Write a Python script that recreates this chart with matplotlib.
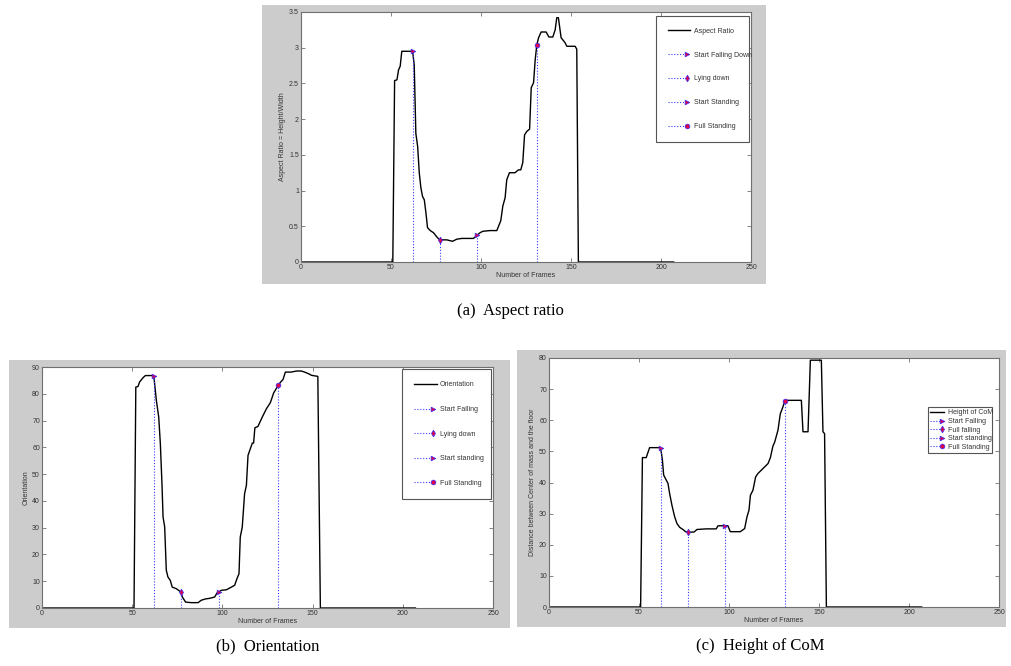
import matplotlib
matplotlib.use("Agg")
import matplotlib.pyplot as plt
from matplotlib.patches import Rectangle
from matplotlib.legend_handler import HandlerLine2D

plt.rcParams["font.family"] = ["Liberation Sans", "DejaVu Sans"]

# ---------------- data ----------------
ar_frames = [1, 51, 52, 53.3, 54.2, 55.1, 56, 62, 62.9, 63.8, 64.8, 65.7, 66.6, 67.5,
             68.5, 69.4, 70.3, 71.8, 73.6, 75.5, 77, 81, 84.2, 86.6, 89.4, 95.8, 98,
             99.5, 101, 105, 108.8, 111, 112.1, 113.4, 114.3, 115.8, 118.9, 120.8,
             122.1, 123.2, 124.2, 125.5, 127, 127.9, 129.2, 130.1, 131, 132, 133.4,
             136.2, 137.7, 139.9, 141.2, 142.1, 143, 144.5, 146.7, 147.7, 152.3,
             153.2, 154.1, 207]
ar_values = [0, 0, 2.54, 2.55, 2.69, 2.74, 2.95, 2.95, 2.76, 1.8, 1.62, 1.25, 1.04, 0.92,
             0.87, 0.69, 0.48, 0.44, 0.41, 0.35, 0.31, 0.31, 0.29, 0.32, 0.33, 0.33, 0.38,
             0.41, 0.43, 0.44, 0.44, 0.58, 0.78, 0.9, 1.15, 1.25, 1.25, 1.29,
             1.29, 1.39, 1.78, 1.83, 1.86, 2.44, 2.51, 2.83, 3.04, 3.14, 3.22,
             3.22, 3.15, 3.15, 3.25, 3.42, 3.42, 3.14, 3.07, 3.02, 3.02,
             2.98, 0, 0]
ar_event_frames = [62, 77, 98, 131]
ar_event_values = [2.95, 0.31, 0.38, 3.04]
ar_event_labels = ["Start Falling Down", "Lying down", "Start Standing", "Full Standing"]

or_frames = [1, 51, 52, 53.2, 54.1, 56, 57.3, 61.2, 62, 63.4, 64.7, 65.6, 66.5, 67.1, 68,
             68.9, 69.8, 71.1, 72.2, 74.5, 76.3, 77, 77.8, 79.6, 82.8, 86.5, 88.3, 90.7,
             92.9, 95.7, 97, 98, 99.4, 102.2, 105, 106.8, 108.1, 109.2, 109.9, 111,
             112.3, 113.3, 114.2, 115.5, 116.6, 117.3, 118, 119.7, 122.1, 124.4, 126.6,
             128.4, 131, 132.3, 133.6, 134.9, 138.2, 141, 143.8, 145.6, 148.4, 149.3,
             152.9, 154.3, 207]
or_values = [0, 0, 82.5, 82.7, 84.4, 86, 86.8, 86.8, 86.5, 77.5, 71.3, 61.4, 46.4, 34, 30.3,
             14.1, 11.6, 10.3, 7.8, 7.2, 6.3, 6, 4.1, 2.2, 2, 2, 2.9, 3.4,
             3.6, 4.1, 5.6, 6, 6.6, 6.8, 7.8, 8.5, 11, 12.8, 26.5, 30.2,
             42.7, 45.8, 57, 59.5, 61.6, 61.6, 67.3, 67.8, 71.3, 74.4, 76.7,
             80.3, 83.2, 84.4, 85.3, 88.1, 88.1, 88.5, 88.5, 88.1, 87.3, 86.9,
             86.5, 0, 0]
or_event_frames = [62, 77, 98, 131]
or_event_values = [86.5, 6, 6, 83.2]
or_event_labels = ["Start Falling", "Lying down", "Start standing", "Full Standing"]

com_frames = [1, 50.9, 51.9, 54, 55.9, 62, 63, 63.7, 65.2, 66.1, 67, 68.3, 69.8, 71.1,
              72.6, 74.4, 75.9, 77, 80.6, 82.2, 87.4, 92.9, 93.9, 98, 99.4, 100.7,
              106.3, 108.7, 110, 111.1, 111.9, 113.3, 114.8, 116.1, 118.9, 121.7, 123,
              124.4, 125.4, 127.2, 128.5, 129.6, 131, 131.9, 140.2, 141.1, 143.9, 145.2,
              151.3, 152.2, 153.1, 154.1, 207]
com_values = [0, 0, 48, 48, 51.2, 51.2, 47.2, 42.4, 40.7, 39.7, 36.5, 32.7, 29, 26.8,
              25.6, 24.9, 24.2, 24, 24.1, 24.9, 25.1, 25.1, 26.1, 26.1, 26.1, 24.2,
              24.2, 25.2, 29, 31.1, 35.9, 37.5, 41.8, 42.9, 44.5, 46.1, 48,
              51.7, 53, 56.8, 62.1, 63.7, 66.1, 66.4, 66.4, 56.3, 56.3, 79.3,
              79.3, 56.3, 55.7, 0, 0]
com_event_frames = [62, 77, 98, 131]
com_event_values = [51.2, 24, 26.1, 66.1]
com_event_labels = ["Start Falling", "Full falling", "Start standing", "Full Standing"]

event_markers = [">", "d", ">", "o"]

# ---------------- layout helpers ----------------
W, H = 1012, 666
fig = plt.figure(figsize=(W / 100, H / 100), dpi=100)
fig.patch.set_facecolor("white")


def px_rect(left, top, right, bottom):
    return [left / W, 1 - bottom / H, (right - left) / W, (bottom - top) / H]


def add_panel_bg(left, top, right, bottom):
    x, y, w, h = px_rect(left, top, right, bottom)
    fig.patches.append(Rectangle((x, y), w, h, transform=fig.transFigure,
                                 facecolor="#cccccc", edgecolor="none", zorder=-10))


class HandlerEndMarker(HandlerLine2D):
    """Legend line that stops at its marker, near the right end of the handle."""

    def create_artists(self, *args, **kwargs):
        arts = super().create_artists(*args, **kwargs)
        ln = arts[0]
        xd = list(ln.get_xdata())
        xm = xd[0] + 0.85 * (xd[-1] - xd[0])
        ln.set_xdata([xd[0], xm, xm])
        return arts


def draw_panel(ax_rect, frames, values, ev_x, ev_y, ev_labels, main_label,
               ylabel, ymax, ystep, yticklabels, legend_box, spacing, pad, hlen):
    ax = fig.add_axes(ax_rect)
    line, = ax.plot(frames, values, color="black", lw=1.0, label=main_label)
    handles = [line]
    for x, y, m, lab in zip(ev_x, ev_y, event_markers, ev_labels):
        h, = ax.plot([x, x], [0, y], linestyle=(0, (1, 1.6)), color="#3a3aff", lw=0.8,
                     marker=m, markevery=[1], markersize=3.4, markerfacecolor="#e0004a",
                     markeredgecolor="#3030ff", markeredgewidth=0.5, label=lab)
        handles.append(h)
    ax.set_xlim(0, 250)
    ax.set_ylim(0, ymax)
    ax.set_xticks(range(0, 251, 50))
    yt = [i * ystep for i in range(len(yticklabels))]
    ax.set_yticks(yt)
    ax.set_yticklabels(yticklabels)
    ax.tick_params(direction="in", top=True, right=True, length=3, width=0.5,
                   labelsize=5, pad=1.5, colors="#555555", labelcolor="#333333")
    for s in ax.spines.values():
        s.set_color("#707070")
        s.set_linewidth(0.8)
    ax.set_xlabel("Number of Frames", fontsize=5, color="#333333", labelpad=1)
    ax.set_ylabel(ylabel, fontsize=5, color="#333333", labelpad=2)

    x0, y0, w = legend_box
    leg = ax.legend(handles=handles, loc="upper left", bbox_to_anchor=(x0, y0, w, 0.0),
                    mode="expand", fontsize=5, labelspacing=spacing,
                    handlelength=hlen, handletextpad=0.5, borderpad=pad, borderaxespad=0,
                    fancybox=False, framealpha=1, edgecolor="#555555",
                    handler_map={h_: HandlerEndMarker(numpoints=1) for h_ in handles[1:]})
    leg.get_frame().set_linewidth(0.8)
    for t in leg.get_texts():
        t.set_color("#333333")
    return ax


# ---------------- (a) aspect ratio ----------------
add_panel_bg(262, 5, 766, 284)
draw_panel(px_rect(301, 12, 751, 262), ar_frames, ar_values,
           ar_event_frames, ar_event_values, ar_event_labels, "Aspect Ratio",
           "Aspect Ratio = Height/Width", 3.5, 0.5,
           ["0", "0.5", "1", "1.5", "2", "2.5", "3", "3.5"],
           (0.789, 0.984, 0.207), spacing=2.42, pad=1.7, hlen=3.2)
fig.text(510 / W, 1 - 311 / H, "(a)  Aspect ratio", ha="center", va="center",
         fontsize=12, family="Liberation Serif")

# ---------------- (b) orientation ----------------
add_panel_bg(9, 360, 510, 628)
draw_panel(px_rect(42, 367, 493, 608), or_frames, or_values,
           or_event_frames, or_event_values, or_event_labels, "Orientation",
           "Orientation", 90, 10, [str(v) for v in range(0, 91, 10)],
           (0.798, 0.992, 0.198), spacing=2.53, pad=1.8, hlen=3.2)
fig.text(268 / W, 1 - 646 / H, "(b)  Orientation", ha="center", va="center",
         fontsize=12, family="Liberation Serif")

# ---------------- (c) height of CoM ----------------
add_panel_bg(517, 350, 1006, 627)
draw_panel(px_rect(549, 358, 999, 607), com_frames, com_values,
           com_event_frames, com_event_values, com_event_labels, "Height of CoM",
           "Distance between Center of mass and the floor", 80, 10,
           [str(v) for v in range(0, 81, 10)],
           (0.842, 0.803, 0.142), spacing=0.22, pad=0.35, hlen=2.0)
fig.text(760 / W, 1 - 646 / H, "(c)  Height of CoM", ha="center", va="center",
         fontsize=12, family="Liberation Serif")

fig.savefig("out.png", dpi=100, facecolor="white")
